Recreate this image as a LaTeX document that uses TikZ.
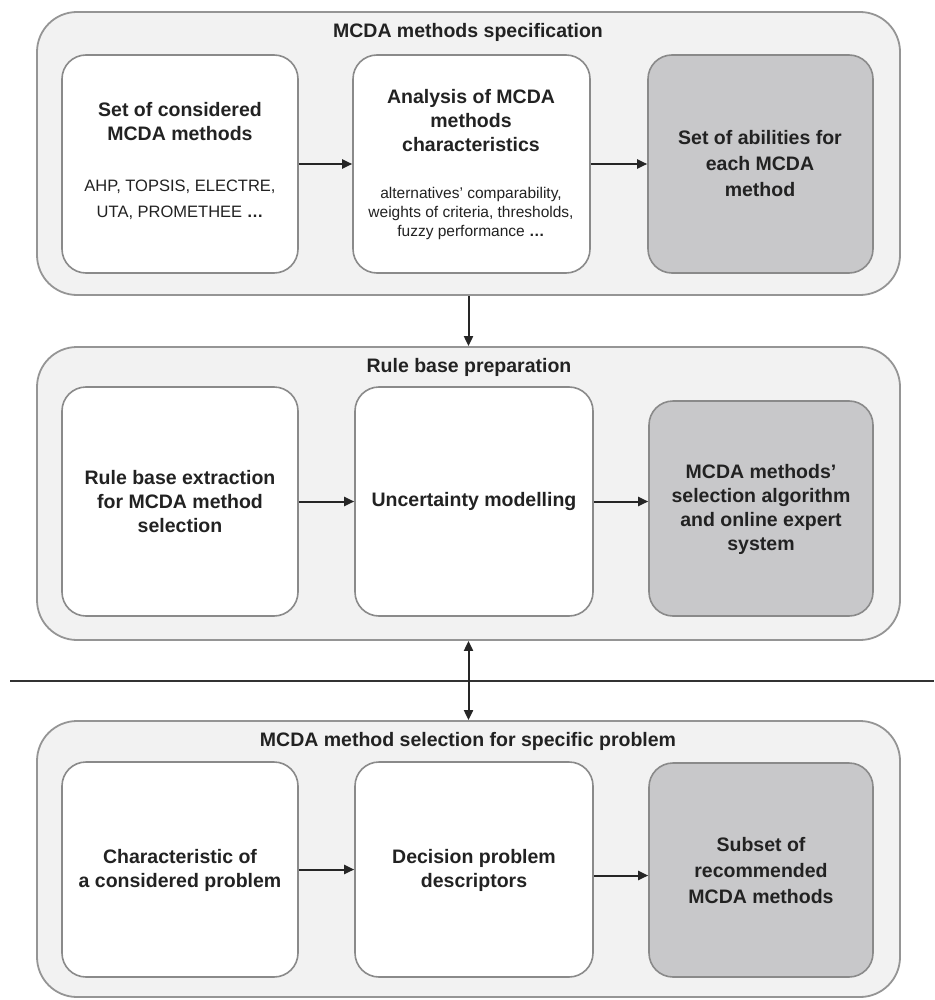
\documentclass[tikz,border=0pt]{standalone}
\usepackage{fontspec}
\setmainfont{Liberation Sans}
\usetikzlibrary{arrows.meta,calc,fit}
\definecolor{panelfill}{HTML}{F2F2F2}
\definecolor{panelline}{HTML}{959595}
\definecolor{boxline}{HTML}{8A8A8A}
\definecolor{grayfill}{HTML}{C8C8CA}
\definecolor{txt}{HTML}{222222}
\begin{document}
\begin{tikzpicture}[x=1pt,y=-1pt,
 panel/.style={draw=panelline, line width=1.8pt, fill=panelfill, rounded corners=40pt, inner sep=0pt},
 wbox/.style={draw=boxline, line width=1.6pt, fill=white, rounded corners=24pt, inner sep=0pt},
 gbox/.style={wbox, fill=grayfill},
 ttl/.style={text=txt, font=\fontsize{19.5}{22}\selectfont\bfseries},
 btxt/.style={text=txt, align=center, font=\fontsize{19.5}{24}\selectfont\bfseries},
 btxtw/.style={text=txt, align=center, font=\fontsize{19.5}{26}\selectfont\bfseries},
 stxta/.style={text=txt, align=center, font=\fontsize{16.5}{26}\selectfont},
 stxtb/.style={text=txt, align=center, font=\fontsize{15.5}{19}\selectfont},
 arr/.style={-{Triangle[length=10pt,width=9pt]}, line width=2pt, draw=black!85},
 darr/.style={{Triangle[length=10pt,width=9pt]}-{Triangle[length=10pt,width=9pt]}, line width=2pt, draw=black!85}
]
\useasboundingbox (0,0) rectangle (934,1000);
\fill[white] (0,0) rectangle (934,1000);

% panels
\node[panel, fit={(37,12) (900,295)}] (P1) {};
\node[panel, fit={(37,347) (900,640)}] (P2) {};
\node[panel, fit={(37,721) (900,997)}] (P3) {};

\node[ttl] (T1) at (468,32) {MCDA methods specification};
\node[ttl] (T2) at (469,367) {Rule base preparation};
\node[ttl] (T3) at (468,741) {MCDA method selection for specific problem};

% top row
\node[wbox, fit={(62,55) (298,273)}] (A1) {};
\node[wbox, fit={(353,55) (590,273)}] (B1) {};
\node[gbox, fit={(648,55) (873,273)}] (C1) {};

\node[btxt] (A1t) at (180,121.5) {Set of considered\\MCDA methods};
\node[stxta] (A1s) at (180,200) {AHP, TOPSIS, ELECTRE,\\UTA, PROMETHEE \textbf{\ldots}};
\node[btxt] (B1t) at (471,121) {Analysis of MCDA\\methods\\characteristics};
\node[stxtb] (B1s) at (471,213) {alternatives' comparability,\\weights of criteria, thresholds,\\fuzzy performance \textbf{\ldots}};
\node[btxtw] (C1t) at (760,164) {Set of abilities for\\each MCDA\\method};

% middle row
\node[wbox, fit={(62,387) (298,616)}] (A2) {};
\node[wbox, fit={(355,387) (593,616)}] (B2) {};
\node[gbox, fit={(649,401) (873,616)}] (C2) {};

\node[btxt] (A2t) at (180,502) {Rule base extraction\\for MCDA method\\selection};
\node[btxt] (B2t) at (474,501) {Uncertainty modelling};
\node[btxt] (C2t) at (761,509) {MCDA methods'\\selection algorithm\\and online expert\\system};

% bottom row
\node[wbox, fit={(62,762) (298,977)}] (A3) {};
\node[wbox, fit={(355,762) (593,977)}] (B3) {};
\node[gbox, fit={(649,763) (873,977)}] (C3) {};

\node[btxt] (A3t) at (180,870) {Characteristic of\\a considered problem};
\node[btxt] (B3t) at (474,870) {Decision problem\\descriptors};
\node[btxtw] (C3t) at (761,871) {Subset of\\recommended\\MCDA methods};

% separator line
\coordinate (hl) at (10,681);
\coordinate (hr) at (934,681);
\draw[line width=1.8pt, draw=black!80] (hl) -- (hr);

% arrows
\draw[arr] (A1.east) -- (B1.west);
\draw[arr] (B1.east) -- (C1.west);
\draw[arr] (A2.east) -- (B2.west);
\draw[arr] (B2.east) -- (B2.east -| C2.west);
\draw[arr] (A3.east) -- (B3.west);
\draw[arr] ([yshift=-6pt]B3.east) -- ([yshift=-6pt]B3.east -| C3.west);
\draw[arr] (P1.south) -- (P2.north);
\draw[darr] (P2.south) -- (P3.north);
\end{tikzpicture}
\end{document}
